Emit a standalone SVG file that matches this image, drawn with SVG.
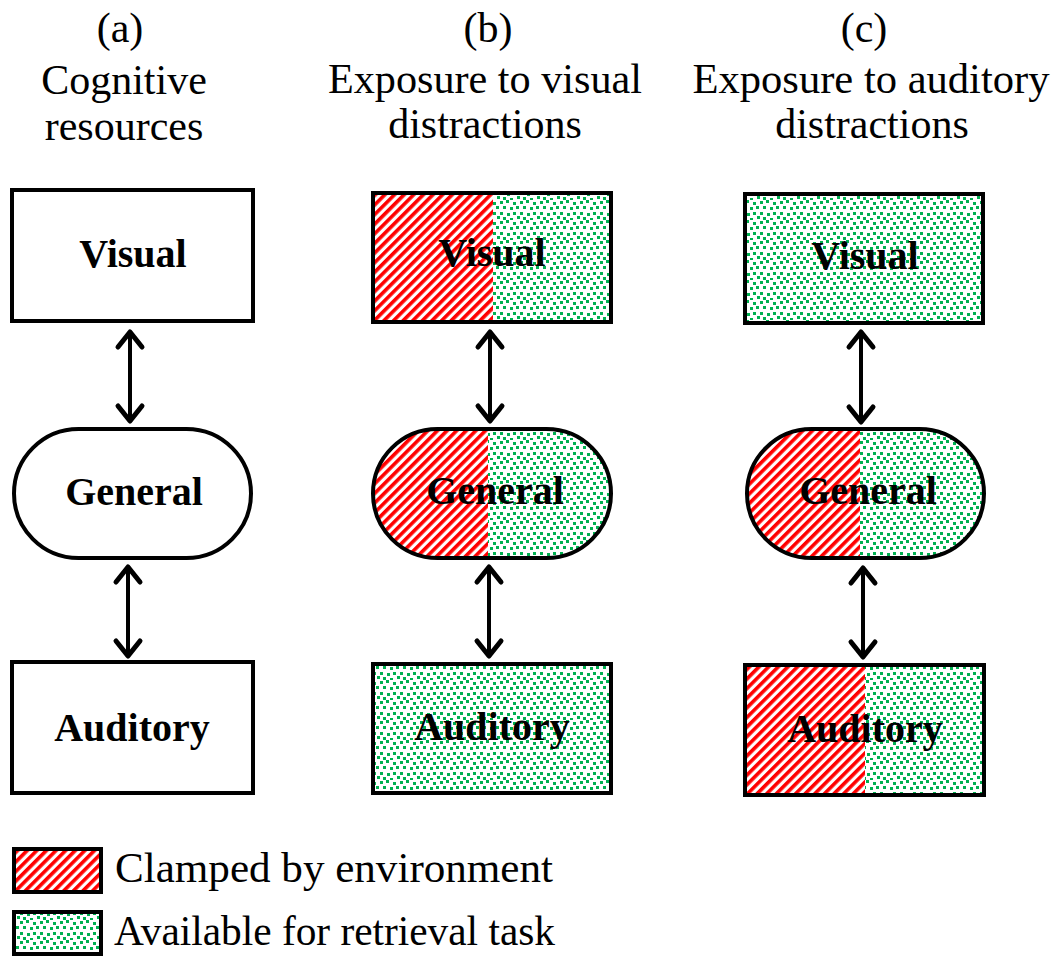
<svg xmlns="http://www.w3.org/2000/svg" width="1062" height="956" viewBox="0 0 1062 956">
  <style>
    .title { font-family: "Liberation Serif", "Times New Roman", serif; font-size: 42px; fill: #000; text-anchor: middle; }
    .label { font-family: "Liberation Serif", "Times New Roman", serif; font-size: 40px; font-weight: bold; fill: #000; text-anchor: middle; }
    .legend { font-family: "Liberation Serif", "Times New Roman", serif; font-size: 42px; fill: #000; }
    .frame { fill: none; stroke: #000; stroke-width: 4; }
    .plain { fill: #fff; stroke: #000; stroke-width: 4; }
    .shaft { stroke: #000; stroke-width: 4; fill: none; }
    .head { stroke: #000; stroke-width: 5; fill: none; stroke-linecap: round; stroke-linejoin: round; }
  </style>
  <defs>
    <!-- red diagonal hatch: resource clamped by the environment -->
    <pattern id="hatch" patternUnits="userSpaceOnUse" width="6.8" height="6.8" patternTransform="rotate(45)">
      <rect width="6.8" height="6.8" fill="#fff"/>
      <rect x="0" y="0" width="3.6" height="6.8" fill="#ff0000"/>
    </pattern>
    <!-- green speckle: resource available for the retrieval task -->
    <pattern id="dots" patternUnits="userSpaceOnUse" width="20" height="20">
      <rect width="20" height="20" fill="#fff"/>
      <g fill="#00b050">
        <rect x="0" y="1" width="3" height="3"/>
        <rect x="6" y="0" width="3" height="3"/>
        <rect x="13" y="2" width="3" height="3"/>
        <rect x="3" y="6" width="3" height="3"/>
        <rect x="10" y="7" width="3" height="3"/>
        <rect x="16" y="6" width="3" height="3"/>
        <rect x="0" y="12" width="3" height="3"/>
        <rect x="7" y="13" width="3" height="3"/>
        <rect x="13" y="12" width="3" height="3"/>
        <rect x="3" y="17" width="3" height="3"/>
        <rect x="10" y="18" width="3" height="2"/>
        <rect x="17" y="16" width="3" height="3"/>
      </g>
    </pattern>
    <clipPath id="pill-b"><rect x="373" y="429" width="238" height="129" rx="64.5"/></clipPath>
    <clipPath id="pill-c"><rect x="747" y="429" width="237" height="129" rx="64.5"/></clipPath>
  </defs>

  <!-- column headings -->
  <g id="headings">
    <text class="title" x="120" y="42">(a)</text>
    <text class="title" x="124" y="94">Cognitive</text>
    <text class="title" x="124" y="140">resources</text>
    <text class="title" x="488" y="42">(b)</text>
    <text class="title" x="485" y="93" textLength="314" lengthAdjust="spacingAndGlyphs">Exposure to visual</text>
    <text class="title" x="485" y="138">distractions</text>
    <text class="title" x="864" y="42">(c)</text>
    <text class="title" x="871" y="93" textLength="357" lengthAdjust="spacingAndGlyphs">Exposure to auditory</text>
    <text class="title" x="872" y="138">distractions</text>
  </g>

  <!-- column (a): all resources unloaded -->
  <g id="a-visual">
    <rect class="plain" x="12" y="190" width="241" height="131"/>
    <text class="label" x="133" y="267">Visual</text>
  </g>
  <g id="a-general">
    <rect class="plain" x="14" y="429" width="237" height="129" rx="64.5"/>
    <text class="label" x="134" y="505">General</text>
  </g>
  <g id="a-auditory">
    <rect class="plain" x="12" y="662" width="241" height="131"/>
    <text class="label" x="132" y="741">Auditory</text>
  </g>

  <!-- column (b): visual distractions -->
  <g id="b-visual">
    <rect x="373" y="193" width="120" height="129" fill="url(#hatch)"/>
    <rect x="493" y="193" width="118" height="129" fill="url(#dots)"/>
    <rect class="frame" x="373" y="193" width="238" height="129"/>
    <text class="label" x="492" y="266">Visual</text>
  </g>
  <g id="b-general">
    <g clip-path="url(#pill-b)">
      <rect x="373" y="429" width="115" height="129" fill="url(#hatch)"/>
      <rect x="488" y="429" width="123" height="129" fill="url(#dots)"/>
    </g>
    <rect class="frame" x="373" y="429" width="238" height="129" rx="64.5"/>
    <text class="label" x="495" y="504">General</text>
  </g>
  <g id="b-auditory">
    <rect x="373" y="664" width="238" height="129" fill="url(#dots)"/>
    <rect class="frame" x="373" y="664" width="238" height="129"/>
    <text class="label" x="492" y="740">Auditory</text>
  </g>

  <!-- column (c): auditory distractions -->
  <g id="c-visual">
    <rect x="745" y="194" width="238" height="129" fill="url(#dots)"/>
    <rect class="frame" x="745" y="194" width="238" height="129"/>
    <text class="label" x="865" y="269">Visual</text>
  </g>
  <g id="c-general">
    <g clip-path="url(#pill-c)">
      <rect x="747" y="429" width="113" height="129" fill="url(#hatch)"/>
      <rect x="860" y="429" width="124" height="129" fill="url(#dots)"/>
    </g>
    <rect class="frame" x="747" y="429" width="237" height="129" rx="64.5"/>
    <text class="label" x="868" y="504">General</text>
  </g>
  <g id="c-auditory">
    <rect x="745" y="665" width="120" height="130" fill="url(#hatch)"/>
    <rect x="865" y="665" width="119" height="130" fill="url(#dots)"/>
    <rect class="frame" x="745" y="665" width="239" height="130"/>
    <text class="label" x="865" y="742">Auditory</text>
  </g>

  <!-- two-way links between resource pools -->
  <g id="connectors">
    <line class="shaft" x1="130" y1="333" x2="130" y2="419"/>
    <polyline class="head" points="118,347 130,332 142,347"/>
    <polyline class="head" points="118,406 130,421 142,406"/>

    <line class="shaft" x1="128" y1="568" x2="128" y2="654"/>
    <polyline class="head" points="116,582 128,567 140,582"/>
    <polyline class="head" points="116,641 128,656 140,641"/>

    <line class="shaft" x1="490" y1="333" x2="490" y2="419"/>
    <polyline class="head" points="478,347 490,332 502,347"/>
    <polyline class="head" points="478,406 490,421 502,406"/>

    <line class="shaft" x1="489" y1="568" x2="489" y2="654"/>
    <polyline class="head" points="477,582 489,567 501,582"/>
    <polyline class="head" points="477,641 489,656 501,641"/>

    <line class="shaft" x1="861" y1="333" x2="861" y2="420"/>
    <polyline class="head" points="849,347 861,332 873,347"/>
    <polyline class="head" points="849,407 861,422 873,407"/>

    <line class="shaft" x1="863" y1="569" x2="863" y2="655"/>
    <polyline class="head" points="851,583 863,568 875,583"/>
    <polyline class="head" points="851,642 863,657 875,642"/>
  </g>

  <!-- key -->
  <g id="legend-clamped">
    <rect x="14" y="849" width="87" height="43" fill="url(#hatch)"/>
    <rect class="frame" x="14" y="849" width="87" height="43"/>
    <text class="legend" x="115" y="882" textLength="438" lengthAdjust="spacingAndGlyphs">Clamped by environment</text>
  </g>
  <g id="legend-available">
    <rect x="14" y="912" width="87" height="42" fill="url(#dots)"/>
    <rect class="frame" x="14" y="912" width="87" height="42"/>
    <text class="legend" x="114" y="945" textLength="441" lengthAdjust="spacingAndGlyphs">Available for retrieval task</text>
  </g>
</svg>
